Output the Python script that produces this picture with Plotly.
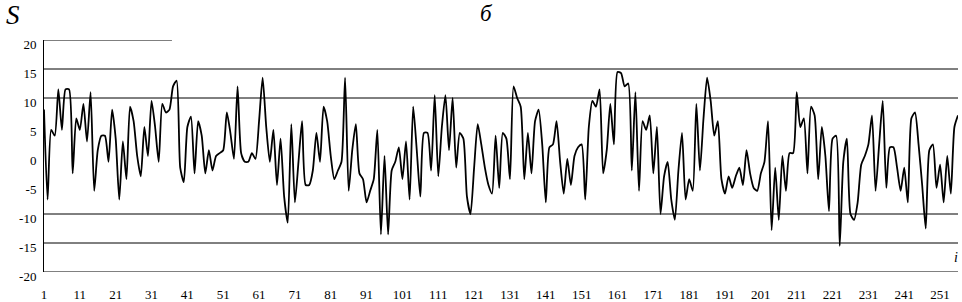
import plotly.graph_objects as go

index = list(range(1, 257))
S_values = [
    8, -7.5, 4.5, 3.5, 11.5, 4.5, 11.5, 11.5, -3, 6.5,
    4.5, 9, 2.5, 11, -6, 1, 3.5, 3.5, -1, 8,
    3, -7.5, 2.5, -4, 8.5, 6, 0, -3.5, 5, 0,
    9.5, 5, -1, 9, 7.5, 8, 12, 13, -2, -4.5,
    5, 6.8, -3, 6, 3.5, -3, 1, -2.5, 0, 0.5,
    1, 7.5, 4, -0.5, 12, 0.5, -1, -1, 0.5, -0.5,
    6, 13.5, 5, -1, 4.5, -5, 3, -7, -11.5, 5.5,
    -8, -1, 6, -5, -5, -2.5, 4, -1, 8.5, 6,
    0, -4, -2.5, -1, 13.5, -6, 1, 5.5, -3, -4,
    -8, -6, -4, 4.5, -13.5, 0, -13.5, -2.5, -1, 1.5,
    -4, 2.5, -7.5, 8.5, 1, -7, 4, 4, -2.5, 10.5,
    -3.5, 5, 10.5, 1, 10, -2, 4, 3, -7, -10,
    -2, 5.5, 2, -2, -5, -6.5, 3.5, -5.5, 4, 3,
    -4, 12, 10, 8.5, -4, 4, -3, 6, 8, 2,
    -8, 1.5, 2, 6, -1, -6.5, -0.5, -5, 0, 1.5,
    2, -7.5, 5, 9.5, 8.5, 11.5, -3, 1, 9, 2,
    14.5, 14.3, 12, 12.5, -2.5, 11, -6, 6, 4.5, 7,
    -3, 5, -10, -3.5, -1, -7.5, -11, -2.5, 4, -7.5,
    -4, -6, 9, -2.5, 6.5, 13.5, 9.5, 3.5, 6, -4,
    -6.5, -3.5, -5.5, -3.5, -2, -5, 1, -3, -5.5, -6,
    -3, -1, 6, -12.8, -2, -11, 0, -6, 0.5, 0.5,
    11, 5, 6.5, -3, 8.5, 7, -4, 5, 0, -9.5,
    3, 3.5, -15.5, -1, 3, -10, -11, -8, -1.5, 0,
    2, 7, -6, 2, 9.5, -5.5, 1.5, 1.5, -2, -6,
    -2, -8, 6.5, 7.5, 2, -5, -12.5, 1, 2, -5.5,
    -1.5, -8, 0, -6.5, 5, 7,
]
x_ticks = list(range(1, 257, 10))
y_ticks = [-20, -15, -10, -5, 0, 5, 10, 15, 20]
grid_levels = [15, 10, -10, -15, -20]

serif = "Liberation Serif"

fig = go.Figure()
fig.add_trace(go.Scatter(x=index, y=S_values, mode="lines",
                         line=dict(color="black", width=1.8, shape="spline", smoothing=0.6),
                         hoverinfo="skip", showlegend=False))

shapes = []
for g in grid_levels:
    shapes.append(dict(type="line", xref="paper", yref="y", x0=0, x1=1, y0=g, y1=g,
                       line=dict(color="black", width=1), layer="below"))
shapes.append(dict(type="line", xref="paper", yref="y", x0=0, x1=0.14, y0=20, y1=20,
                   line=dict(color="black", width=1), layer="below"))

fig.update_layout(
    width=962, height=302,
    margin=dict(l=44, r=4, t=40, b=30),
    paper_bgcolor="white", plot_bgcolor="white",
    shapes=shapes,
    font=dict(family=serif, color="black", size=13),
    xaxis=dict(range=[1, 256], tickvals=x_ticks, ticktext=[str(v) for v in x_ticks],
               showgrid=False, zeroline=False, showline=False, ticks="",
               automargin=False, ticklabelstandoff=13,
               tickfont=dict(family=serif, size=13)),
    yaxis=dict(range=[-20, 20], tickvals=y_ticks, ticktext=[str(v) for v in y_ticks],
               showgrid=False, zeroline=False, showline=True, linecolor="black", linewidth=1,
               ticks="", automargin=False, ticklabelshift=4, ticklabelstandoff=4,
               tickfont=dict(family=serif, size=13)),
    annotations=[
        dict(text="<i>S</i>", xref="paper", yref="paper", x=-0.044, y=1.0, yshift=8,
             xanchor="left", yanchor="bottom", showarrow=False,
             font=dict(family=serif, size=27, color="black")),
        dict(text="<i>б</i>", xref="paper", yref="paper", x=0.484, y=1.0, yshift=12,
             xanchor="center", yanchor="bottom", showarrow=False,
             font=dict(family=serif, size=23, color="black")),
        dict(text="<i>i</i>", xref="paper", yref="paper", x=1.0, y=0, xshift=2, yshift=5,
             xanchor="right", yanchor="bottom", showarrow=False,
             font=dict(family=serif, size=14, color="black")),
    ],
)

fig.write_html("out.html", config={"displayModeBar": False},
               post_script="document.body.style.margin='0';document.body.style.overflow='hidden';")
